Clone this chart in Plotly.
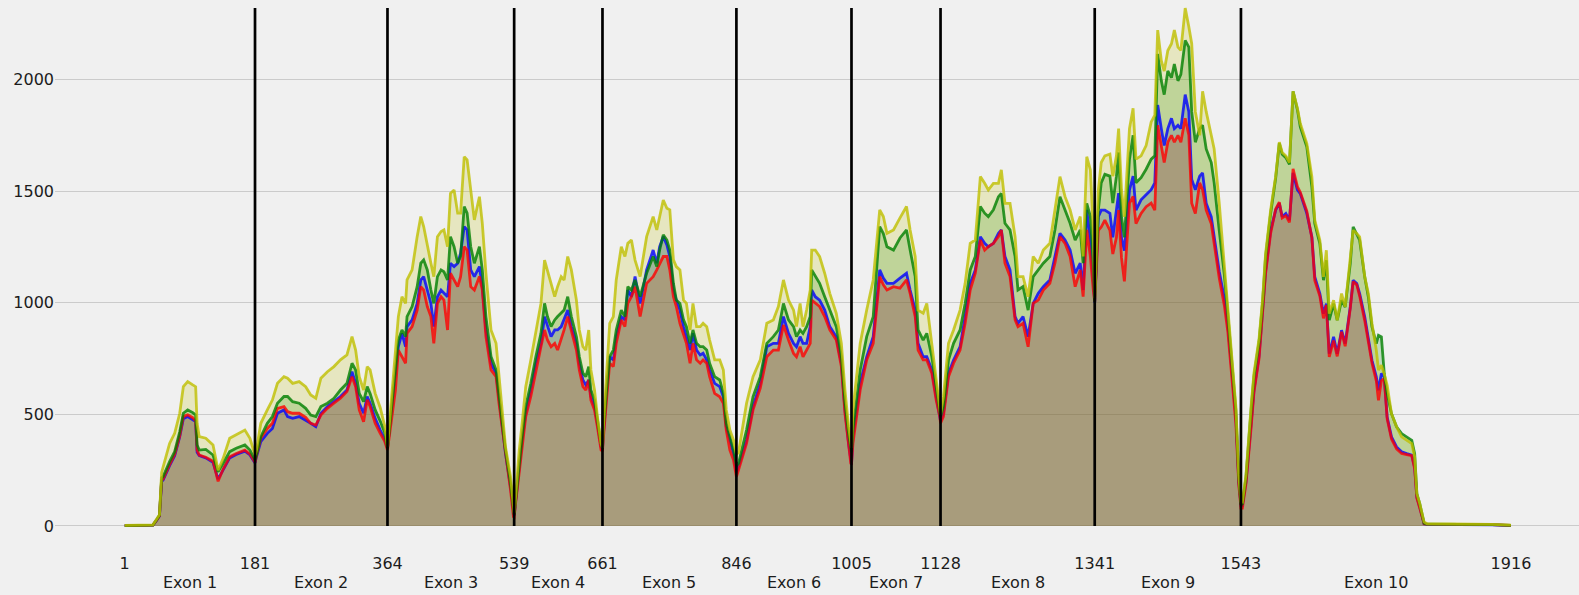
import plotly.graph_objects as go

# ---------------- data ----------------
positions = [
    1, 20, 40, 45, 49, 52, 54, 63, 70, 77, 82, 88, 95, 99, 101, 104, 113, 123, 130, 137, 146, 155, 167, 174, 181,
    183, 189, 198, 205, 212, 221, 226, 233, 242, 251, 258, 265, 272, 281, 290, 299, 308, 315, 320, 325, 331, 336, 340, 347, 354, 360, 364,
    370, 375, 379, 384, 389, 391, 398, 405, 410, 414, 419, 424, 428, 433, 438, 442, 447, 451, 456, 461, 465, 470, 474, 479, 484, 491, 495, 500, 507, 514, 518, 523, 527, 534, 538, 539,
    541, 546, 550, 555, 562, 569, 576, 581, 585, 590, 595, 599, 604, 608, 613, 618, 625, 629, 634, 638, 642, 645, 650, 654, 659, 661,
    662, 667, 671, 676, 680, 687, 692, 696, 701, 706, 713, 722, 731, 736, 740, 745, 750, 754, 759, 763, 768, 773, 777, 782, 786, 791, 796, 800, 805, 809, 816, 823, 828, 832, 837, 842, 846,
    849, 860, 869, 879, 888, 897, 904, 911, 918, 925, 929, 934, 938, 943, 948, 950, 955, 961, 968, 975, 984, 991, 996, 1001, 1004, 1005,
    1007, 1017, 1026, 1035, 1044, 1049, 1054, 1063, 1072, 1081, 1086, 1093, 1097, 1104, 1109, 1116, 1122, 1127, 1128,
    1132, 1139, 1146, 1155, 1162, 1169, 1176, 1183, 1189, 1194, 1201, 1208, 1212, 1217, 1224, 1231, 1235, 1242, 1249, 1256, 1263, 1270, 1279, 1286, 1293, 1300, 1307, 1314, 1321, 1325, 1330, 1335, 1339, 1341,
    1346, 1350, 1355, 1362, 1366, 1371, 1374, 1378, 1382, 1389, 1394, 1398, 1405, 1412, 1419, 1424, 1428, 1433, 1437, 1442, 1447, 1451, 1456, 1460, 1466, 1471, 1475, 1480, 1486, 1490, 1495, 1502, 1506, 1513, 1520, 1525, 1532, 1536, 1540, 1543,
    1545, 1550, 1557, 1561, 1568, 1573, 1577, 1584, 1591, 1596, 1600, 1605, 1610, 1615, 1621, 1625, 1634, 1641, 1645, 1652, 1657, 1661, 1665, 1671, 1676, 1682, 1687, 1694, 1698, 1703, 1707, 1714, 1719, 1724, 1730, 1733, 1737, 1741, 1745, 1751, 1758, 1765, 1772, 1779, 1783, 1786, 1790, 1796, 1800, 1830, 1860, 1890, 1916,
]

yellow_vals = [
    3, 3, 5, 30, 50, 240, 266, 370, 415, 505, 624, 647, 632, 624, 460, 400, 393, 363, 250, 303, 393, 408, 430, 393, 318,
    340, 460, 520, 564, 639, 669, 662, 639, 647, 624, 587, 572, 662, 691, 714, 744, 766, 848, 788, 669, 609, 714, 699, 594, 530, 450, 355,
    579, 759, 938, 1027, 997, 1102, 1147, 1296, 1386, 1341, 1251, 1177, 1117, 1296, 1319, 1326, 1251, 1490, 1505, 1401, 1401, 1654, 1640, 1490, 1371, 1475, 1356, 1132, 878, 818, 669, 475, 355, 221, 87, 60,
    131, 340, 460, 624, 744, 878, 997, 1191, 1147, 1087, 1027, 1072, 1117, 1102, 1207, 1147, 1012, 878, 803, 788, 878, 699, 609, 490, 370, 350,
    430, 700, 908, 938, 1102, 1251, 1207, 1266, 1281, 1191, 1117, 1296, 1386, 1326, 1386, 1460, 1423, 1416, 1192, 1162, 1147, 1012, 997, 878, 997, 893, 893, 908, 893, 833, 744, 744, 699, 520, 430, 385, 320,
    330, 550, 669, 744, 908, 923, 983, 1102, 1012, 967, 893, 997, 893, 967, 1057, 1236, 1236, 1207, 1132, 1042, 953, 818, 609, 445, 370, 350,
    520, 818, 967, 1102, 1416, 1386, 1311, 1326, 1380, 1431, 1326, 1207, 967, 953, 997, 818, 639, 520, 500,
    579, 818, 878, 967, 1087, 1266, 1281, 1565, 1535, 1505, 1535, 1535, 1595, 1445, 1445, 1296, 1117, 1117, 1027, 1207, 1177, 1236, 1266, 1416, 1565, 1475, 1416, 1326, 1386, 1207, 1654, 1595, 1326, 1020,
    1506, 1628, 1658, 1666, 1567, 1658, 1780, 1506, 1385, 1780, 1871, 1643, 1658, 1704, 1810, 1840, 2221, 2084, 2038, 2130, 2160, 2221, 2145, 2130, 2320, 2236, 2160, 1856, 1750, 1947, 1856, 1750, 1689, 1446, 1172, 959, 686, 534, 230, 110,
    108, 230, 534, 686, 838, 1020, 1218, 1415, 1567, 1719, 1673, 1658, 1628, 1947, 1871, 1803, 1713, 1564, 1370, 1280, 1116, 1235, 951, 1011, 922, 1041, 981, 1190, 1325, 1310, 1295, 1116, 1041, 907, 787, 698, 720, 680, 630, 503, 444, 399, 384, 369, 309, 145, 100, 18, 10, 10, 9, 7, 4,
]

green_vals = [
    2, 2, 4, 28, 48, 215, 221, 288, 333, 422, 505, 520, 508, 497, 363, 340, 343, 318, 243, 281, 333, 348, 363, 340, 296,
    318, 400, 460, 490, 550, 580, 580, 557, 550, 527, 497, 490, 535, 550, 572, 609, 639, 729, 699, 594, 557, 624, 594, 520, 470, 420, 348,
    535, 699, 833, 878, 848, 938, 983, 1072, 1177, 1192, 1147, 1057, 997, 1117, 1147, 1139, 1102, 1296, 1251, 1177, 1207, 1431, 1401, 1251, 1177, 1251, 1147, 938, 759, 699, 579, 460, 340, 191, 72, 50,
    116, 281, 400, 535, 639, 759, 863, 997, 938, 893, 923, 938, 953, 967, 1027, 938, 848, 759, 684, 669, 714, 609, 564, 475, 370, 345,
    430, 620, 759, 788, 878, 967, 938, 1072, 1057, 1102, 1027, 1132, 1207, 1162, 1236, 1304, 1281, 1236, 1087, 1012, 997, 923, 893, 818, 878, 818, 803, 803, 788, 729, 669, 654, 594, 460, 400, 340, 270,
    281, 430, 579, 669, 818, 848, 878, 997, 923, 893, 848, 878, 863, 893, 938, 1147, 1117, 1087, 1027, 967, 893, 759, 550, 415, 355, 330,
    430, 699, 848, 938, 1341, 1310, 1251, 1236, 1290, 1326, 1236, 1117, 878, 833, 863, 758, 624, 505, 490,
    534, 743, 818, 878, 997, 1147, 1207, 1431, 1401, 1386, 1416, 1475, 1490, 1356, 1326, 1207, 1057, 1072, 967, 1117, 1147, 1177, 1207, 1326, 1475, 1416, 1356, 1281, 1326, 1177, 1445, 1386, 1177, 1005,
    1415, 1537, 1575, 1567, 1446, 1567, 1673, 1385, 1293, 1643, 1750, 1537, 1560, 1598, 1643, 1658, 2114, 1994, 1932, 2038, 2008, 2069, 1994, 2023, 2175, 2145, 1856, 1719, 1780, 1795, 1689, 1628, 1537, 1324, 1126, 943, 670, 518, 215, 95,
    100, 220, 520, 670, 825, 1005, 1205, 1400, 1560, 1715, 1665, 1650, 1620, 1947, 1865, 1788, 1698, 1519, 1355, 1265, 1101, 1190, 922, 996, 922, 1011, 981, 1175, 1340, 1310, 1280, 1116, 1026, 892, 817, 854, 847, 683, 593, 503, 444, 414, 399, 384, 324, 145, 100, 13, 8, 8, 7, 6, 3,
]

blue_vals = [
    2, 2, 4, 25, 45, 200, 205, 270, 315, 400, 480, 490, 478, 468, 330, 315, 305, 285, 210, 250, 305, 320, 335, 318, 282,
    310, 378, 415, 437, 505, 520, 490, 482, 490, 475, 460, 445, 505, 535, 557, 580, 609, 691, 639, 550, 505, 580, 550, 482, 430, 390, 348,
    520, 669, 803, 863, 803, 893, 923, 997, 1102, 1117, 1057, 997, 893, 1027, 1057, 1042, 1027, 1177, 1162, 1177, 1222, 1341, 1326, 1147, 1117, 1162, 1072, 878, 729, 684, 564, 445, 325, 176, 54, 45,
    109, 266, 385, 505, 609, 729, 818, 938, 893, 848, 878, 878, 893, 923, 967, 893, 818, 729, 654, 632, 654, 580, 535, 460, 355, 340,
    400, 610, 759, 743, 848, 938, 923, 1057, 1027, 1117, 997, 1147, 1236, 1177, 1251, 1296, 1259, 1207, 1057, 1012, 967, 893, 848, 788, 863, 788, 766, 774, 744, 699, 639, 624, 579, 445, 385, 325, 240,
    266, 385, 535, 639, 803, 818, 818, 938, 863, 818, 803, 848, 818, 818, 893, 1057, 1027, 1012, 967, 893, 848, 729, 520, 370, 296, 275,
    400, 639, 758, 848, 1147, 1110, 1087, 1087, 1110, 1132, 1057, 967, 818, 758, 758, 699, 579, 475, 470,
    505, 684, 743, 803, 938, 1087, 1147, 1296, 1266, 1251, 1266, 1311, 1326, 1207, 1147, 938, 908, 938, 848, 997, 1042, 1072, 1102, 1207, 1311, 1281, 1236, 1132, 1177, 1057, 1416, 1281, 1087, 1000,
    1385, 1415, 1415, 1400, 1293, 1415, 1491, 1293, 1233, 1506, 1567, 1415, 1461, 1484, 1506, 1537, 1886, 1780, 1704, 1780, 1826, 1780, 1795, 1780, 1932, 1856, 1552, 1506, 1567, 1582, 1446, 1385, 1293, 1141, 1020, 898, 640, 488, 200, 93,
    93, 199, 458, 610, 762, 990, 1142, 1324, 1415, 1446, 1385, 1400, 1370, 1582, 1506, 1489, 1400, 1295, 1116, 1041, 951, 996, 772, 847, 772, 877, 817, 981, 1101, 1086, 1041, 937, 847, 742, 668, 608, 683, 668, 488, 399, 354, 332, 324, 317, 264, 130, 85, 10, 7, 7, 6, 5, 2,
]

red_vals = [
    2, 2, 4, 26, 46, 205, 210, 275, 320, 405, 490, 498, 485, 470, 340, 318, 308, 290, 200, 255, 310, 325, 340, 322, 285,
    315, 393, 437, 460, 527, 535, 512, 505, 505, 487, 460, 452, 497, 527, 550, 572, 602, 669, 624, 520, 467, 565, 535, 460, 415, 380, 340,
    490, 609, 788, 759, 729, 863, 893, 967, 1072, 1057, 983, 938, 818, 997, 1027, 1012, 878, 1132, 1102, 1072, 1117, 1251, 1236, 1072, 1057, 1117, 1057, 848, 699, 669, 550, 430, 310, 161, 42, 40,
    101, 251, 370, 490, 580, 699, 803, 878, 833, 803, 818, 788, 833, 878, 938, 878, 788, 699, 624, 609, 654, 564, 520, 445, 340, 335,
    385, 580, 729, 714, 818, 923, 893, 997, 1027, 1072, 938, 1087, 1117, 1147, 1177, 1207, 1207, 1147, 1027, 983, 908, 863, 818, 729, 818, 744, 729, 744, 729, 669, 594, 579, 550, 430, 340, 296, 220,
    251, 370, 520, 617, 758, 788, 788, 900, 833, 773, 758, 803, 758, 788, 818, 1012, 997, 983, 938, 878, 833, 714, 505, 355, 281, 280,
    370, 609, 744, 818, 1117, 1080, 1057, 1072, 1065, 1102, 1042, 938, 788, 744, 744, 684, 564, 490, 460,
    490, 669, 729, 788, 908, 1057, 1132, 1281, 1236, 1251, 1266, 1296, 1326, 1177, 1117, 923, 893, 908, 803, 997, 1012, 1057, 1087, 1177, 1296, 1266, 1207, 1072, 1147, 1027, 1326, 1207, 1057, 1005,
    1324, 1339, 1370, 1324, 1218, 1293, 1415, 1202, 1096, 1446, 1476, 1354, 1400, 1430, 1446, 1415, 1795, 1704, 1628, 1719, 1750, 1719, 1750, 1719, 1826, 1750, 1446, 1400, 1537, 1506, 1415, 1354, 1263, 1111, 989, 867, 609, 457, 184, 80,
    80, 190, 440, 600, 750, 980, 1130, 1310, 1420, 1450, 1380, 1390, 1360, 1600, 1520, 1495, 1410, 1290, 1100, 1030, 930, 990, 757, 830, 760, 870, 805, 975, 1095, 1080, 1030, 920, 830, 730, 650, 563, 650, 660, 480, 390, 345, 325, 320, 315, 255, 125, 80, 10, 8, 8, 7, 6, 3,
]

exon_bounds = [1, 181, 364, 539, 661, 846, 1005, 1128, 1341, 1543, 1916]
exon_names = ["Exon 1", "Exon 2", "Exon 3", "Exon 4", "Exon 5",
              "Exon 6", "Exon 7", "Exon 8", "Exon 9", "Exon 10"]
y_ticks = [0, 500, 1000, 1500, 2000]

# ---------------- figure ----------------
FONT = "DejaVu Sans"
TXT = "#1c1c1c"
BG = "#f0f0f0"

series = [
    ("blue", blue_vals, "0,0,255"),
    ("red", red_vals, "255,0,0"),
    ("green", green_vals, "0,128,0"),
    ("yellow", yellow_vals, "191,191,0"),
]

fig = go.Figure()
# translucent fills first
for name, vals, rgb in series:
    n = min(len(positions), len(vals))
    fig.add_trace(go.Scatter(
        x=positions[:n], y=vals[:n], mode="none", name=name + " fill",
        fill="tozeroy", fillcolor=f"rgba({rgb},0.2)",
        showlegend=False, hoverinfo="skip",
    ))
# lines on top
for name, vals, rgb in series:
    n = min(len(positions), len(vals))
    fig.add_trace(go.Scatter(
        x=positions[:n], y=vals[:n], mode="lines", name=name,
        line=dict(color=f"rgba({rgb},0.8)", width=2.8),
        showlegend=False,
    ))

ymax = max(max(v) for _, v, _ in series)
for b in exon_bounds[1:-1]:
    fig.add_shape(type="line", xref="x", yref="y", x0=b, x1=b, y0=0, y1=ymax,
                  line=dict(color="black", width=2.7), layer="above")

for i, name in enumerate(exon_names):
    mid = (exon_bounds[i] + exon_bounds[i + 1]) / 2
    fig.add_annotation(x=mid, y=0, xref="x", yref="paper", yshift=-30,
                       yanchor="middle", text=name, showarrow=False,
                       font=dict(family=FONT, size=16, color=TXT))

fig.update_layout(
    width=1579, height=595,
    margin=dict(l=55, r=0, t=0, b=43),
    paper_bgcolor=BG, plot_bgcolor=BG,
    font=dict(family=FONT, size=16, color=TXT),
    xaxis=dict(range=[-95.3, 2010], tickvals=exon_bounds,
               ticktext=[str(b) for b in exon_bounds],
               showgrid=False, zeroline=False, showline=False, ticks=""),
    yaxis=dict(range=[-116.5, 2356], tickvals=y_ticks,
               ticktext=[str(t) for t in y_ticks],
               showgrid=True, gridcolor="#cbcbcb", gridwidth=1.3,
               zeroline=False, showline=False, ticks=""),
)

fig.write_html("out.html",
               config={"displayModeBar": False},
               post_script="document.body.style.margin='0px';"
                           "document.body.style.background='#f0f0f0';")
